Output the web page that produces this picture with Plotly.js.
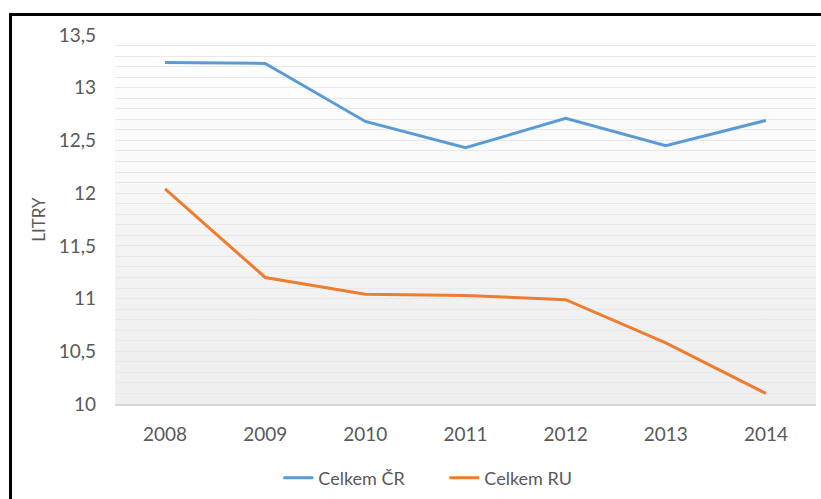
<!DOCTYPE html>
<html>
<head>
<meta charset="utf-8">
<script src="https://cdn.plot.ly/plotly-3.0.1.min.js"></script>
<style>
  html, body { margin: 0; padding: 0; background: #ffffff; }
  #wrap { position: relative; width: 821px; height: 499px; overflow: hidden; }
  #frame { position: absolute; left: 9px; top: 13px; width: 830px; height: 500px;
           border-left: 3px solid #000; border-top: 3px solid #000; box-sizing: border-box; }
  #plotbg { position: absolute; left: 115px; top: 35px; width: 701px; height: 369px;
            background: linear-gradient(to bottom, #ffffff 0%, #fafafa 30%, #f3f3f3 60%, #f0f0f0 80%, #efefef 100%); }
  #chart { position: absolute; left: 0; top: 0; width: 821px; height: 499px; }
</style>
</head>
<body>
<div id="wrap">
  <div id="frame"></div>
  <div id="plotbg"></div>
  <div id="chart"></div>
</div>
<script>
// Spotřeba v litrech za roky 2008–2014
const years = ['2008', '2009', '2010', '2011', '2012', '2013', '2014'];
const celkemCR = [13.24, 13.23, 12.68, 12.43, 12.71, 12.45, 12.69];
const celkemRU = [12.04, 11.20, 11.04, 11.03, 10.99, 10.58, 10.10];
const seriesNames = ['Celkem ČR', 'Celkem RU'];
const yTicks = [10, 10.5, 11, 11.5, 12, 12.5, 13, 13.5];
const yMin = 10, yMax = 13.5;

const font = 'Lato, "Open Sans", "Noto Sans", sans-serif';

const traces = [
  { x: years, y: celkemCR, name: seriesNames[0], type: 'scatter', mode: 'lines',
    line: { color: '#5b9bd5', width: 3 } },
  { x: years, y: celkemRU, name: seriesNames[1], type: 'scatter', mode: 'lines',
    line: { color: '#ed7d31', width: 3 } }
];

// drop lines from the higher series down to the category axis
const dropLines = years.map((yr, i) => ({
  type: 'line', xref: 'x', yref: 'y', layer: 'below',
  x0: yr, x1: yr, y0: yMin, y1: Math.max(celkemCR[i], celkemRU[i]),
  line: { color: '#d6d6d6', width: 1.5 }
}));

const layout = {
  width: 821, height: 499,
  margin: { l: 115, r: 5, t: 35, b: 95 },
  paper_bgcolor: 'rgba(0,0,0,0)',
  plot_bgcolor: 'rgba(0,0,0,0)',
  separators: ', ',
  showlegend: true,
  shapes: dropLines,
  legend: {
    orientation: 'h', xref: 'container', yref: 'container',
    x: 0.339, xanchor: 'left', y: 0.042, yanchor: 'middle',
    font: { family: font, size: 18, color: '#595959' },
    entrywidth: 121, entrywidthmode: 'pixels'
  },
  xaxis: {
    type: 'category', range: [-0.5, 6.5],
    showgrid: false,
    showline: true, linecolor: '#d6d6d6', linewidth: 1.5,
    ticks: '', ticklabelstandoff: 13,
    tickfont: { family: font, size: 19, color: '#595959' },
    fixedrange: true
  },
  yaxis: {
    range: [yMin, yMax], tickvals: yTicks,
    showgrid: true, gridcolor: '#e8e8e8', gridwidth: 1,
    minor: { dtick: 0.1, tick0: 10, showgrid: true, gridcolor: '#e8e8e8', gridwidth: 1 },
    zeroline: false, showline: false, ticks: '', ticklabelstandoff: 18,
    tickfont: { family: font, size: 19, color: '#595959' },
    title: { text: 'LITRY', standoff: 8, font: { family: font, size: 17, color: '#595959' } },
    fixedrange: true
  }
};

Plotly.newPlot('chart', traces, layout, { displayModeBar: false, staticPlot: true });
</script>
</body>
</html>
